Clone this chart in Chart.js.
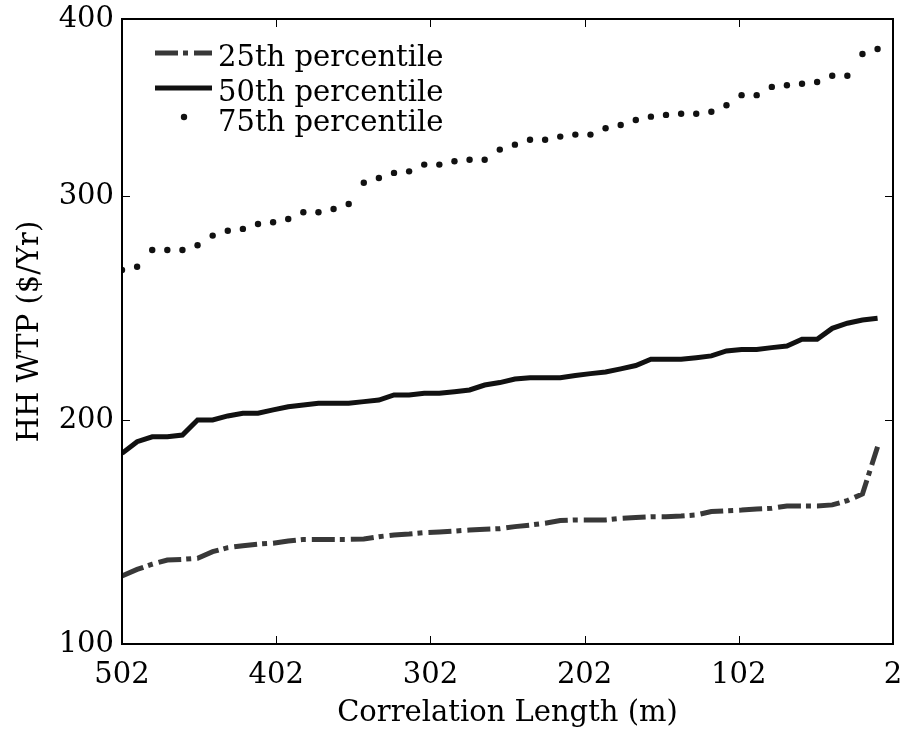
<!DOCTYPE html>
<html>
<head>
<meta charset="utf-8">
<script src="https://cdn.jsdelivr.net/npm/chart.js@4"></script>
<style>
  body { margin: 0; background: #fff; }
</style>
</head>
<body>
<canvas id="myChart" width="906" height="731"></canvas>
<script>
// correlation length of each sample
const corrLength = [502, 492.2, 482.4, 472.6, 462.8, 453, 443.2, 433.4, 423.6, 413.8,
  404, 394.2, 384.4, 374.6, 364.8, 355, 345.2, 335.4, 325.6, 315.8,
  306, 296.2, 286.4, 276.6, 266.8, 257, 247.2, 237.4, 227.6, 217.8,
  208, 198.2, 188.4, 178.6, 168.8, 159, 149.2, 139.4, 129.6, 119.8,
  110, 100.2, 90.4, 80.6, 70.8, 61, 51.2, 41.4, 31.6, 21.8, 12];

const p25 = [130.4, 133.3, 135.6, 137.5, 137.8, 138.3, 141.2, 143.0, 143.9, 144.6,
  145.0, 146.0, 146.7, 146.7, 146.7, 146.7, 146.9, 147.9, 148.7, 149.1,
  149.7, 150.0, 150.4, 150.9, 151.2, 151.5, 152.4, 153.1, 153.9, 155.1,
  155.4, 155.4, 155.4, 156.1, 156.5, 156.8, 156.8, 157.1, 157.6, 159.1,
  159.5, 159.8, 160.3, 160.6, 161.6, 161.6, 161.6, 162.1, 164.0, 167.0, 188.1];

const p50 = [185.1, 190.3, 192.5, 192.5, 193.3, 200.0, 200.0, 201.8, 203.0, 203.0,
  204.5, 205.9, 206.7, 207.5, 207.5, 207.5, 208.2, 208.9, 211.2, 211.2,
  211.9, 211.9, 212.6, 213.4, 215.6, 216.7, 218.3, 218.9, 218.9, 218.9,
  219.9, 220.7, 221.4, 222.8, 224.3, 227.1, 227.1, 227.1, 227.8, 228.6,
  230.8, 231.5, 231.5, 232.3, 233.0, 236.0, 236.0, 240.9, 243.2, 244.6, 245.4];

const p75 = [267.0, 268.4, 275.9, 275.9, 275.9, 278.0, 282.3, 284.5, 285.3, 287.5,
  288.3, 289.7, 292.7, 292.7, 294.2, 296.4, 305.9, 308.0, 310.3, 311.0,
  314.0, 314.0, 315.5, 316.2, 316.2, 320.7, 322.9, 325.1, 325.1, 326.5,
  327.4, 327.4, 330.2, 331.7, 333.9, 335.4, 336.2, 336.7, 336.7, 337.6,
  340.5, 345.0, 345.0, 348.7, 349.4, 350.1, 350.9, 353.7, 353.7, 363.4, 365.6];

const seriesNames = ['25th percentile', '50th percentile', '75th percentile'];

const xTickValues = [502, 402, 302, 202, 102, 2];
// the top tick sits at the top of the frame but is labelled 400 in the original
const yTickValues = [100, 200, 300, 379];
const yTickLabels = ['100', '200', '300', '400'];

const serif = 'DejaVu Serif';

function toPoints(values) {
    return values.map((v, i) => ({ x: corrLength[i], y: v }));
}

// box round the plot with inward ticks on all four sides
const framePlugin = {
    id: 'frame',
    afterDatasetsDraw(chart) {
        const { ctx, chartArea: a, scales } = chart;
        ctx.save();
        ctx.strokeStyle = '#000';
        ctx.lineWidth = 1;
        ctx.beginPath();
        scales.x.ticks.forEach(t => {
            const px = Math.round(scales.x.getPixelForValue(t.value)) + 0.5;
            ctx.moveTo(px, a.bottom); ctx.lineTo(px, a.bottom - 8);
            ctx.moveTo(px, a.top); ctx.lineTo(px, a.top + 8);
        });
        scales.y.ticks.forEach(t => {
            const py = Math.round(scales.y.getPixelForValue(t.value)) + 0.5;
            ctx.moveTo(a.left, py); ctx.lineTo(a.left + 8, py);
            ctx.moveTo(a.right, py); ctx.lineTo(a.right - 8, py);
        });
        ctx.stroke();
        ctx.lineWidth = 2;
        ctx.strokeRect(a.left, a.top, a.right - a.left, a.bottom - a.top);
        ctx.restore();
    }
};

// legend in the top left corner, no box
const legendPlugin = {
    id: 'cornerLegend',
    afterDraw(chart) {
        const ctx = chart.ctx;
        const rows = [66, 101, 131];
        ctx.save();
        chart.data.datasets.forEach((ds, i) => {
            const base = rows[i];
            const mid = base - 13;
            if (ds.showLine === false) {
                ctx.fillStyle = ds.pointBackgroundColor;
                ctx.beginPath();
                ctx.arc(184, base - 14, ds.pointRadius, 0, Math.PI * 2);
                ctx.fill();
            } else {
                ctx.strokeStyle = ds.borderColor;
                ctx.lineWidth = ds.borderWidth;
                ctx.setLineDash(ds.borderDash || []);
                ctx.beginPath();
                ctx.moveTo(155, mid);
                ctx.lineTo(212, mid);
                ctx.stroke();
                ctx.setLineDash([]);
            }
            ctx.fillStyle = '#000';
            ctx.font = '29px "' + serif + '"';
            ctx.textBaseline = 'alphabetic';
            ctx.textAlign = 'left';
            ctx.fillText(ds.label, 218, base);
        });
        ctx.restore();
    }
};

const ctx = document.getElementById('myChart').getContext('2d');

const myChart = new Chart(ctx, {
    type: 'line',
    data: {
        datasets: [{
            label: seriesNames[0],
            data: toPoints(p25),
            borderColor: '#383838',
            borderWidth: 5,
            borderDash: [23, 5, 5, 6],
            pointRadius: 0,
            tension: 0
        }, {
            label: seriesNames[1],
            data: toPoints(p50),
            borderColor: '#111',
            borderWidth: 5,
            pointRadius: 0,
            tension: 0
        }, {
            label: seriesNames[2],
            data: toPoints(p75),
            showLine: false,
            pointRadius: 3.2,
            pointBackgroundColor: '#111',
            pointBorderWidth: 0
        }]
    },
    options: {
        responsive: false,
        animation: false,
        layout: {
            padding: { left: 0, right: 13, top: 19, bottom: 0 }
        },
        plugins: {
            legend: { display: false },
            tooltip: { enabled: false }
        },
        scales: {
            x: {
                type: 'linear',
                reverse: true,
                min: 2,
                max: 502,
                grid: { display: false, drawTicks: false },
                border: { display: false },
                afterBuildTicks: s => { s.ticks = xTickValues.map(v => ({ value: v })); },
                afterFit: s => {
                    s.height = 87;
                    s.paddingLeft = 0;
                    s.paddingRight = 0;
                },
                ticks: {
                    autoSkip: false,
                    maxRotation: 0,
                    padding: 14,
                    color: '#000',
                    font: { family: serif, size: 29 }
                },
                title: {
                    display: true,
                    text: 'Correlation Length (m)',
                    color: '#000',
                    font: { family: serif, size: 29 },
                    padding: { top: 0, bottom: 0 }
                }
            },
            y: {
                min: 100,
                max: 379,
                grid: { display: false, drawTicks: false },
                border: { display: false },
                afterBuildTicks: s => { s.ticks = yTickValues.map(v => ({ value: v })); },
                afterFit: s => {
                    s.width = 122;
                    s.paddingTop = 0;
                    s.paddingBottom = 0;
                },
                ticks: {
                    padding: 8,
                    color: '#000',
                    font: { family: serif, size: 29 },
                    callback: v => yTickLabels[yTickValues.indexOf(v)]
                },
                title: {
                    display: true,
                    text: 'HH WTP ($/Yr)',
                    color: '#000',
                    font: { family: serif, size: 29 },
                    padding: { top: 13, bottom: 0 }
                }
            }
        }
    },
    plugins: [framePlugin, legendPlugin]
});
</script>
</body>
</html>
